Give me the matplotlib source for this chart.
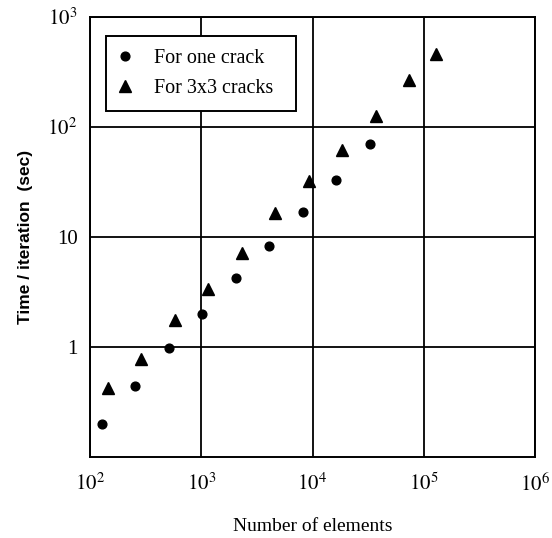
import matplotlib
matplotlib.use("Agg")
import matplotlib.pyplot as plt
from matplotlib.ticker import FixedLocator, FixedFormatter, NullLocator

plt.rcParams['font.family'] = ['Liberation Serif', 'DejaVu Serif']
plt.rcParams['mathtext.fontset'] = 'stix'

# Data
one_crack_elements = [128, 256, 512, 1024, 2048, 4096, 8192, 16384, 32768]
one_crack_time = [0.20, 0.44, 0.97, 2.0, 4.2, 8.3, 17, 33, 70]

three_cracks_elements = [144, 288, 576, 1152, 2304, 4608, 9216, 18432, 36864, 73728, 128000]
three_cracks_time = [0.42, 0.77, 1.75, 3.4, 7.1, 16.5, 32, 62, 126, 270, 460]

xticks = [1e2, 1e3, 1e4, 1e5, 1e6]
xtick_labels = [r'$10^2$', r'$10^3$', r'$10^4$', r'$10^5$', r'$10^6$']
yticks = [1, 10, 100, 1000]
ytick_labels = ['1', '10', r'$10^2$', r'$10^3$']

fig = plt.figure(figsize=(5.52, 5.38), dpi=100)
ax = fig.add_axes([90/552, 1-457/538, (535-90)/552, (457-17)/538])

ax.set_xscale('log')
ax.set_yscale('log')
ax.set_xlim(1e2, 1e6)
ax.set_ylim(0.1, 1000)

ax.plot(one_crack_elements, one_crack_time, 'o', color='black', markersize=6.3,
        label='For one crack')
ax.plot(three_cracks_elements, three_cracks_time, '^', color='black', markersize=8,
        label='For 3x3 cracks')

ax.xaxis.set_major_locator(FixedLocator(xticks))
ax.xaxis.set_major_formatter(FixedFormatter(xtick_labels))
ax.xaxis.set_minor_locator(NullLocator())
ax.yaxis.set_major_locator(FixedLocator(yticks))
ax.yaxis.set_major_formatter(FixedFormatter(ytick_labels))
ax.yaxis.set_minor_locator(NullLocator())

ax.grid(True, which='major', color='black', linewidth=1.3)
ax.tick_params(axis='x', length=0, labelsize=15, pad=12)
ax.tick_params(axis='y', length=0, labelsize=15, pad=9)
for s in ax.spines.values():
    s.set_linewidth(1.4)

ax.set_xlabel('Number of elements', fontsize=14, labelpad=16)
ax.set_ylabel('Time / iteration  (sec)', fontsize=12.5, fontweight='bold',
              family=['Liberation Sans', 'DejaVu Sans'], labelpad=10)

leg = ax.legend(loc='upper left',
                bbox_to_anchor=(16/445, (457-36)/440 - 0.2, 190/445, 0.2),
                mode='expand', fontsize=14.5,
                frameon=True, fancybox=False, edgecolor='black', framealpha=1,
                borderaxespad=0, handletextpad=1.14, borderpad=0.65, labelspacing=0.55,
                handlelength=0.6)
leg.get_frame().set_linewidth(1.4)

fig.savefig('out.png', dpi=100)
